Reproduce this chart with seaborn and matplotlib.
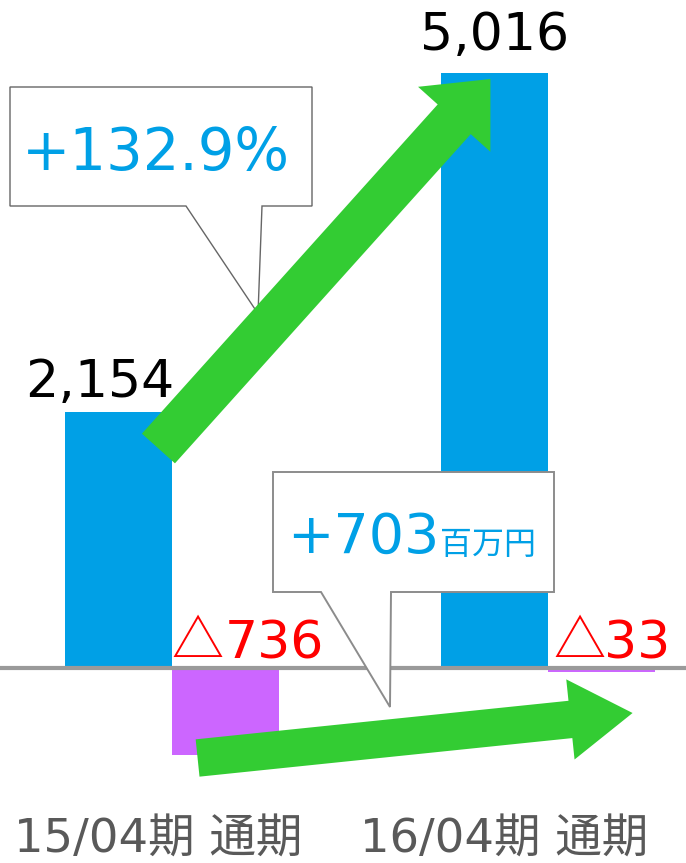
import matplotlib
matplotlib.use("Agg")
import matplotlib.pyplot as plt
import matplotlib.transforms as mtransforms
from matplotlib.patches import Polygon
import seaborn as sns
import pandas as pd

# ---- data ----
periods = ["15/04期 通期", "16/04期 通期"]
series = ["売上高", "営業利益"]
revenue = [2154, 5016]
profit = [-736, -33]
revenue_labels = ["2,154", "5,016"]
profit_labels = ["△736", "△33"]
growth_label = "+132.9%"
change_label = "+703"
change_unit = "百万円"

BLUE = "#00A0E6"
PURPLE = "#CC66FF"
GREEN = "#33CC33"
RED = "#FF0000"

sns.set_theme(style="white")
plt.rcParams['font.family'] = ['DejaVu Sans', 'Noto Sans CJK JP']

W, H = 686, 863
fig = plt.figure(figsize=(W / 100, H / 100), dpi=100)
AX_BOTTOM = 63
ax = fig.add_axes([0, AX_BOTTOM / H, 1, (H - AX_BOTTOM) / H])

df = pd.DataFrame({
    "period": periods * 2,
    "series": [series[0]] * len(periods) + [series[1]] * len(periods),
    "value": revenue + profit,
})
sns.barplot(data=df, x="period", y="value", hue="series", order=periods,
            hue_order=series, palette={series[0]: BLUE, series[1]: PURPLE},
            width=0.57, linewidth=0, saturation=1, legend=False, ax=ax,
            zorder=2)

# scale: pixels per unit
k = 595 / 5016
base_from_bottom = (H - 668) - AX_BOTTOM
ax.set_ylim(-base_from_bottom / k, ((H - AX_BOTTOM) - base_from_bottom) / k)
ax.set_xlim(-172 / 376, (W - 172) / 376)
ax.axhline(0, color="#9A9A9A", lw=3.0, zorder=3)

for s in ax.spines.values():
    s.set_visible(False)
ax.set_yticks([])
ax.set_xlabel("")
ax.set_ylabel("")
ax.set_xticks([(158 - 172) / 376, (504 - 172) / 376], periods)
ax.tick_params(axis="x", length=0, pad=13, labelsize=33.5, labelcolor="#595959")

ident = mtransforms.IdentityTransform()

def disp(x, y):
    return ax.transData.transform((x, y))

rev_bars = list(ax.containers[0])
prof_bars = list(ax.containers[1])

# value labels
rev_off = [(-19, 15), (0, 23)]
for rect, lab, (dx, dy) in zip(rev_bars, revenue_labels, rev_off):
    cx = rect.get_x() + rect.get_width() / 2
    ax.annotate(lab, (cx, rect.get_height()), xytext=(dx, dy),
                textcoords="offset pixels", ha="center", va="baseline",
                fontsize=37.5, color="black", zorder=6)

# negative labels: full-width triangle from the CJK font, digits in DejaVu
tri_dx = [52, 58]
num_dx = [53, 56]
for rect, lab, tdx, ndx in zip(prof_bars, profit_labels, tri_dx, num_dx):
    x0 = rect.get_x()
    ax.annotate(lab[0], (x0, 0), xytext=(tdx, 10), textcoords="offset pixels",
                ha="right", va="baseline", fontsize=37.5, color=RED, zorder=6,
                family=['Noto Sans CJK JP', 'DejaVu Sans'])
    ax.annotate(lab[1:], (x0, 0), xytext=(ndx, 10), textcoords="offset pixels",
                ha="left", va="baseline", fontsize=37.5, color=RED, zorder=6)

# arrows (display pixel coords derived from bar positions)
r1, r2 = rev_bars
p1, p2 = prof_bars
t1 = disp(r1.get_x() + r1.get_width() / 2, r1.get_height()) + [40, -36]
h1 = disp(r2.get_x() + r2.get_width() / 2, r2.get_height()) + [-4, -6]
ax.annotate("", xy=h1, xytext=t1, xycoords=ident, textcoords=ident,
            arrowprops=dict(arrowstyle="simple,head_length=39,head_width=70,tail_width=32",
                            mutation_scale=1, fc=GREEN, ec="none", lw=0,
                            shrinkA=0, shrinkB=0), zorder=5)

t2 = disp(p1.get_x() + p1.get_width() / 2, 0) + [-28, -90]
h2 = disp(p2.get_x() + p2.get_width() / 2, 0) + [31, -45]
ax.annotate("", xy=h2, xytext=t2, xycoords=ident, textcoords=ident,
            arrowprops=dict(arrowstyle="simple,head_length=45,head_width=58,tail_width=27",
                            mutation_scale=1, fc=GREEN, ec="none", lw=0,
                            shrinkA=0, shrinkB=0), zorder=5)

def P(x, y):
    return (x, H - y)

# callout 1: tail tip touches upper edge of arrow 1
frac = 0.30
tip1 = t1 + frac * (h1 - t1)
tip1 = (tip1[0], tip1[1] + 24)
box1 = [P(10, 87), P(312, 87), P(312, 206), P(262, 206), tip1, P(186, 206), P(10, 206)]
ax.add_patch(Polygon(box1, closed=True, transform=ident, fc="white",
                     ec="#666666", lw=1.0, zorder=4, clip_on=False))
fig.text(156 / W, 1 - 170 / H, growth_label, ha="center", va="baseline",
         fontsize=41.5, color=BLUE, zorder=7)

box2 = [P(273, 472), P(554, 472), P(554, 592), P(391, 592), P(390, 707),
        P(321, 592), P(273, 592)]
ax.add_patch(Polygon(box2, closed=True, transform=ident, fc="white",
                     ec="#8C8C8C", lw=1.4, zorder=4, clip_on=False))
fig.text(287 / W, 1 - 553 / H, change_label, ha="left", va="baseline",
         fontsize=40, color=BLUE, zorder=7)
fig.text(440 / W, 1 - 554 / H, change_unit, ha="left", va="baseline",
         fontsize=23, color=BLUE, zorder=7)

fig.savefig("out.png", dpi=100)
